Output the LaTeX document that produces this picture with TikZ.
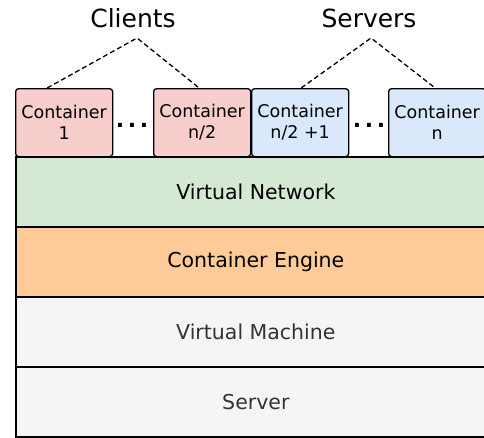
\documentclass[tikz,border=0pt]{standalone}
\usepackage{fontspec}
\setmainfont{DejaVu Sans}
\definecolor{cpink}{HTML}{F8CECC}
\definecolor{cblue}{HTML}{DAE8FC}
\definecolor{cgreen}{HTML}{D5E8D4}
\definecolor{corange}{HTML}{FFCC99}
\definecolor{cgray}{HTML}{F5F5F5}
\definecolor{cgtext}{HTML}{333333}
\begin{document}
\begin{tikzpicture}[x=1pt,y=-1pt,
  layer/.style={draw=black,line width=1.7pt,minimum width=480pt,minimum height=70pt,anchor=north west,inner sep=0pt,font=\fontsize{20.5}{24}\selectfont},
  cont/.style={draw=black,line width=1.3pt,rounded corners=3pt,minimum width=97pt,minimum height=68pt,anchor=north west,inner sep=0pt,align=center,font=\fontsize{17.5}{21}\selectfont},
  grp/.style={font=\fontsize{25}{30}\selectfont},
  conn/.style={dashed,dash pattern=on 5pt off 3pt,line width=1.3pt},
  dotsn/.style={font=\bfseries\fontsize{22}{24}\selectfont,inner sep=0pt}]
\useasboundingbox (0,0) rectangle (484,437);
\fill[white] (0,0) rectangle (484,437);
\node[layer,fill=cgreen] (vn) at (15,156) {Virtual Network};
\node[layer,fill=corange] (ce) at (15,226) {Container Engine};
\node[layer,fill=cgray,text=cgtext] (vm) at (15,296) {Virtual Machine};
\node[layer,fill=cgray,text=cgtext] (sv) at (15,366) {Server};
\node[cont,fill=cpink] (c1) at (15,88) {Container\\1};
\node[cont,fill=cpink] (c2) at (153,88) {Container\\n/2};
\node[cont,fill=cblue] (c3) at (251,88) {Container\\n/2 +1};
\node[cont,fill=cblue] (c4) at (388,88) {Container\\n};
\node[dotsn] (d1) at (132,125) {.\hspace{3.6pt}.\hspace{3.6pt}.};
\node[dotsn] (d2) at (369,125) {.\hspace{3.6pt}.\hspace{3.6pt}.};
\node[grp] (cl) at (133,18) {Clients};
\node[grp] (sr) at (369,18) {Servers};
\coordinate (a1) at (137,38);
\coordinate (a2) at (371,38);
\draw[conn] ([xshift=-17pt]c1.north) -- (a1) -- ([xshift=-3pt]c2.north);
\draw[conn] ([xshift=1pt]c3.north) -- (a2) -- ([xshift=-2pt]c4.north);
\end{tikzpicture}
\end{document}
